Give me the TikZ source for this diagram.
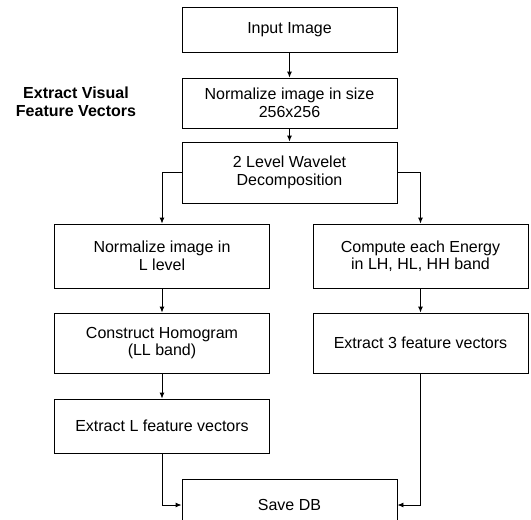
\documentclass[tikz,border=0pt]{standalone}
\usepackage{fontspec}
\setmainfont{Liberation Sans}
\usetikzlibrary{arrows.meta}
\begin{document}
\begin{tikzpicture}[x=1pt,y=-1pt,
  box/.style={draw=black,line width=0.9pt,minimum width=215pt,inner sep=0pt,align=center,
    font=\fontsize{16}{17.5}\selectfont},
  arr/.style={draw=black,line width=0.9pt,-{Latex[length=6pt,width=5pt]}}]
\useasboundingbox (0,0) rectangle (531,520);
\clip (0,0) rectangle (531,520);
\node[box,minimum height=45pt] (in) at (289.5,29.5) {Input Image};
\node[box,minimum height=50pt] (norm) at (289.5,103) {Normalize image in size\\256x256};
\node[box,minimum height=61pt] (wav) at (289.5,172.5) {2 Level Wavelet\\Decomposition};
\node[box,minimum height=64pt] (nl) at (162,256) {Normalize image in\\L level};
\node[box,minimum height=64pt] (ce) at (420.5,256) {Compute each Energy\\in LH, HL, HH band};
\node[box,minimum height=60pt] (ch) at (162,343) {Construct Homogram\\(LL band)};
\node[box,minimum height=60pt] (e3) at (420.5,343) {Extract 3 feature vectors};
\node[box,minimum height=54pt] (el) at (162,426) {Extract L feature vectors};
\node[box,minimum height=52pt] (db) at (289.5,505) {Save DB};
\node[align=center,font=\fontsize{16}{18.5}\selectfont\bfseries] (lbl) at (76,102) {Extract Visual\\Feature Vectors};
\draw[arr] (in) -- (norm);
\draw[arr] (norm) -- (wav);
\draw[arr] (wav.west) -| (nl.north);
\draw[arr] (wav.east) -| (ce.north);
\draw[arr] (nl) -- (ch);
\draw[arr] (ch) -- (el);
\draw[arr] (ce) -- (e3);
\draw[arr] (el.south) |- (db.west);
\draw[arr] (e3.south) |- (db.east);
\end{tikzpicture}
\end{document}
